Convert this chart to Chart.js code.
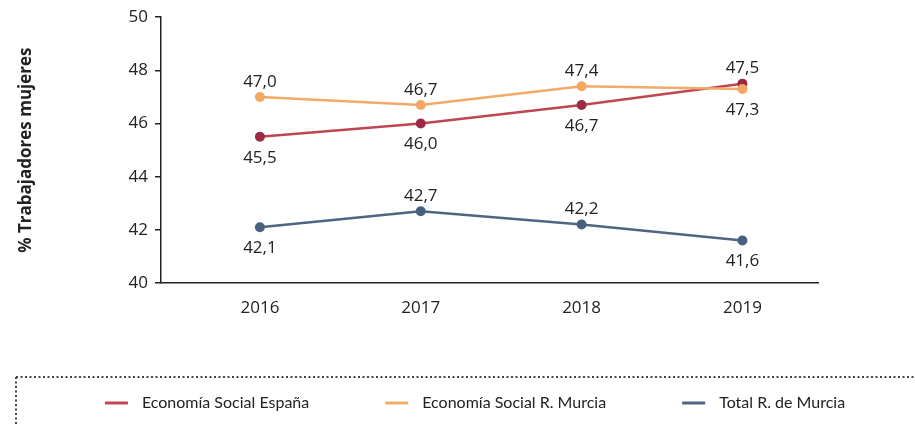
<!DOCTYPE html>
<html>
<head>
<meta charset="utf-8">
<script src="https://cdn.jsdelivr.net/npm/chart.js@4/dist/chart.umd.min.js"></script>
<style>
  html, body { margin: 0; padding: 0; background: #fff; }
  #wrap { position: relative; width: 915px; height: 425px; }
</style>
</head>
<body>
<div id="wrap"><canvas id="chart" width="915" height="425"></canvas></div>
<script>
        const years = [2016, 2017, 2018, 2019];
        const espana = [45.5, 46.0, 46.7, 47.5];
        const murciaSocial = [47.0, 46.7, 47.4, 47.3];
        const murciaTotal = [42.1, 42.7, 42.2, 41.6];
        const seriesNames = ['Economía Social España', 'Economía Social R. Murcia', 'Total R. de Murcia'];
        const yTicks = [40, 42, 44, 46, 48, 50];

        const textColor = '#222';

        // little value-label plugin (no datalabels lib available)
        const valueLabels = {
            id: 'valueLabels',
            afterDatasetsDraw(chart) {
                const ctx = chart.ctx;
                ctx.save();
                ctx.font = '17px "Open Sans"';
                ctx.fillStyle = textColor;
                ctx.textAlign = 'center';
                ctx.textBaseline = 'middle';
                chart.data.datasets.forEach((ds, i) => {
                    const meta = chart.getDatasetMeta(i);
                    meta.data.forEach((pt, j) => {
                        const where = ds.labelPos[j];
                        const dy = where === 'above' ? -15 : 21;
                        const txt = ds.data[j].y.toFixed(1).replace('.', ',');
                        ctx.fillText(txt, pt.x, pt.y + dy);
                    });
                });
                ctx.restore();
            }
        };

        // legend drawn by hand, inside a dotted frame
        const legendBox = {
            id: 'legendBox',
            afterDraw(chart) {
                const ctx = chart.ctx;
                ctx.save();
                ctx.strokeStyle = '#444';
                ctx.lineWidth = 2;
                ctx.setLineDash([2, 2.5]);
                ctx.beginPath();
                ctx.moveTo(16, 377);
                ctx.lineTo(915, 377);
                ctx.moveTo(16, 377);
                ctx.lineTo(16, 425);
                ctx.stroke();
                ctx.setLineDash([]);

                ctx.font = '16px Lato';
                const lineLen = 23, gap = 14, spacing = 76;
                const widths = chart.data.datasets.map(ds => lineLen + gap + ctx.measureText(ds.label).width);
                const total = widths.reduce((a, b) => a + b, 0) + spacing * (widths.length - 1);
                let x = 475 - total / 2;
                const y = 403;
                chart.data.datasets.forEach((ds, i) => {
                    ctx.strokeStyle = ds.borderColor;
                    ctx.lineWidth = 3;
                    ctx.beginPath();
                    ctx.moveTo(x, y);
                    ctx.lineTo(x + lineLen, y);
                    ctx.stroke();
                    ctx.fillStyle = textColor;
                    ctx.textAlign = 'left';
                    ctx.textBaseline = 'middle';
                    ctx.fillText(ds.label, x + lineLen + gap, y);
                    x += widths[i] + spacing;
                });
                ctx.restore();
            }
        };

        const toPoints = arr => arr.map((v, i) => ({ x: years[i], y: v }));

        const chartData = {
            datasets: [
                {
                    label: seriesNames[0],
                    data: toPoints(espana),
                    borderColor: '#bf4651',
                    backgroundColor: '#bf4651',
                    pointBackgroundColor: '#9b2b42',
                    pointBorderColor: '#9b2b42',
                    labelPos: ['below', 'below', 'below', 'above'],
                    order: 1
                },
                {
                    label: seriesNames[1],
                    data: toPoints(murciaSocial),
                    borderColor: '#f2aa68',
                    backgroundColor: '#f2aa68',
                    pointBackgroundColor: '#f2a862',
                    pointBorderColor: '#f2a862',
                    labelPos: ['above', 'above', 'above', 'below'],
                    order: 0
                },
                {
                    label: seriesNames[2],
                    data: toPoints(murciaTotal),
                    borderColor: '#4d6782',
                    backgroundColor: '#4d6782',
                    pointBackgroundColor: '#46617d',
                    pointBorderColor: '#46617d',
                    labelPos: ['below', 'above', 'above', 'below'],
                    order: 2
                }
            ]
        };

        const chartConfig = {
            type: 'line',
            data: chartData,
            options: {
                responsive: false,
                animation: false,
                layout: { padding: { left: 16, right: 97, top: 8, bottom: 102 } },
                elements: {
                    line: { borderWidth: 2.5, tension: 0 },
                    point: { radius: 5, borderWidth: 0 }
                },
                plugins: {
                    tooltip: { enabled: false },
                    legend: { display: false }
                },
                scales: {
                    x: {
                        type: 'linear',
                        min: 2015.385,
                        max: 2019.47,
                        afterBuildTicks: scale => { scale.ticks = years.map(v => ({ value: v })); },
                        afterFit: scale => { scale.height = 40; },
                        border: { color: textColor, width: 1.5 },
                        grid: { display: false, drawTicks: false },
                        ticks: {
                            padding: 15,
                            color: textColor,
                            font: { family: 'Open Sans', size: 17 },
                            callback: v => String(v)
                        }
                    },
                    y: {
                        min: 40,
                        max: 50,
                        afterBuildTicks: scale => { scale.ticks = yTicks.map(v => ({ value: v })); },
                        afterFit: scale => { scale.width = 145; },
                        border: { color: textColor, width: 1.5 },
                        grid: { drawOnChartArea: false, drawTicks: true, tickLength: 6, color: textColor, lineWidth: 1.5 },
                        ticks: {
                            padding: 7,
                            color: textColor,
                            font: { family: 'Open Sans', size: 17 }
                        },
                        title: {
                            display: true,
                            text: '% Trabajadores mujeres',
                            color: textColor,
                            font: { family: 'Open Sans', size: 17, weight: 'bold' },
                            padding: { top: 0, bottom: 0 }
                        }
                    }
                }
            },
            plugins: [valueLabels, legendBox]
        };

        new Chart(document.getElementById('chart'), chartConfig);
</script>
</body>
</html>
